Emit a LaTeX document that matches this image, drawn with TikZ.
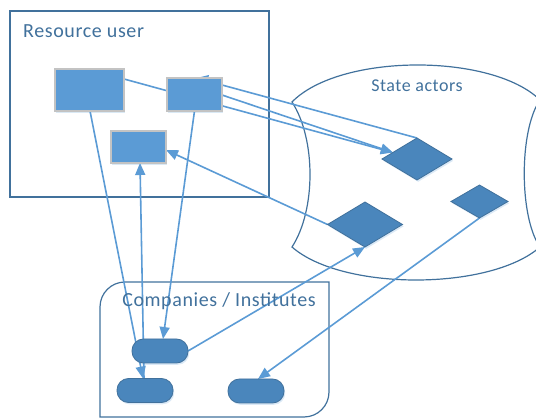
\documentclass[tikz,border=0pt]{standalone}
\usepackage{fontspec}
\setmainfont{Carlito}
\usetikzlibrary{shapes.geometric,arrows.meta,calc,shadows}
\definecolor{linkblue}{HTML}{5B9BD5}
\definecolor{boxblue}{HTML}{5B9BD5}
\definecolor{deepblue}{HTML}{4A86BC}
\definecolor{edgeblue}{HTML}{41719C}
\definecolor{framegray}{HTML}{C3C3C3}
\pgfdeclarelayer{bottom}
\pgfdeclarelayer{back}
\pgfsetlayers{bottom,back,main}
\begin{document}
\begin{tikzpicture}[x=1pt,y=-1pt,
  container/.style={draw=edgeblue, line width=1.2pt},
  softshadow/.style={drop shadow={opacity=0.22, fill=linkblue, shadow xshift=1.2pt, shadow yshift=-1.8pt}},
  userbox/.style={rectangle, draw=framegray, line width=1.4pt, fill=boxblue, inner sep=0, outer sep=0, softshadow},
  actor/.style={diamond, draw=edgeblue, line width=0.8pt, fill=deepblue, inner sep=0, outer sep=0, softshadow},
  firm/.style={rectangle, rounded corners=11.5pt, draw=edgeblue, line width=0.8pt, fill=deepblue,
    inner sep=0, outer sep=0, minimum width=56pt, minimum height=24pt, softshadow},
  link/.style={draw=linkblue, line width=1.6pt},
  arrowlink/.style={link, -{Triangle[length=12pt,width=10pt]}},
  caption/.style={text=edgeblue, inner sep=0, font=\fontsize{20}{24}\selectfont\addfontfeature{LetterSpace=3}}]
\clip (0,0) rectangle (536,419);

% group outlines
\begin{pgfonlayer}{bottom}
  \draw[container, fill=white] (10,11) rectangle (269,197);
  \draw[container] (292,102) .. controls (340,53) and (492,53) .. (540,100)
                   .. controls (519,130) and (519,217) .. (540,247)
                   .. controls (490,291) and (342,291) .. (292,247)
                   .. controls (316,210) and (316,139) .. cycle;
  \draw[container] (100,417) -- (100,307) .. controls (100,293.2) and (111.2,282) .. (125,282)
                   -- (329,282) -- (329,392) .. controls (329,405.8) and (317.8,417) .. (304,417) -- cycle;
\end{pgfonlayer}

\node[caption, anchor=base west] (tuser) at (23,38) {Resource user};
\node[caption, anchor=base, font=\fontsize{18}{22}\selectfont\addfontfeature{LetterSpace=3}] (tstate) at (417,92) {State actors};
\node[caption, anchor=base] (tfirm) at (219,307) {Companies / Institutes};

% resource user parts
\node[userbox, minimum width=69pt, minimum height=42pt] (A) at (89.5,90) {};
\node[userbox, minimum width=55pt, minimum height=33pt] (B) at (194.5,94.5) {};
\node[userbox, minimum width=55pt, minimum height=32pt] (C) at (138.5,147) {};

% state actors
\node[actor, minimum width=70pt, minimum height=42pt] (D1) at (417,159) {};
\node[actor, minimum width=75pt, minimum height=45pt] (D2) at (365,224.5) {};
\node[actor, minimum width=57pt, minimum height=33pt] (D3) at (479.5,201.5) {};

% companies / institutes
\node[firm] (E1) at (160,351) {};
\node[firm] (E2) at (145,390.5) {};
\node[firm] (E3) at (256,391) {};

% connectors
\begin{pgfonlayer}{back}
  \fill[linkblue] (195,78.5) -- (209,75) -- (208,79) -- cycle;
  \fill[linkblue] (86,69.5) -- (93,68.3) -- (93,70) -- cycle;
  \draw[arrowlink] ($(A.north east)+(0,10)$) -- ($(D1.west)!0.31!(D1.north)$);
  \draw[arrowlink] ($(B.north east)+(0,17)$) -- ($(D1.west)!0.31!(D1.north)$);
  \draw[link] ($(B.north east)+(0,7)$) -- (D1.north);
  \draw[arrowlink] ($(A.south)+(0.5,0)$) -- ($(E2.north)+(-2,0)$);
  \draw[arrowlink] (B.south) -- ($(E1.north)+(3,0)$);
  \draw[arrowlink] ($(E2.north)+(-1,0)$) -- ($(C.south)+(1.5,0)$);
  \draw[arrowlink] (D2.west) -- ($(C.east)+(0,3)$);
  \draw[arrowlink] (E1.east) -- (D2.south);
  \draw[arrowlink] (D3.south) -- ($(E3.north)+(2,0)$);
\end{pgfonlayer}
\end{tikzpicture}
\end{document}
